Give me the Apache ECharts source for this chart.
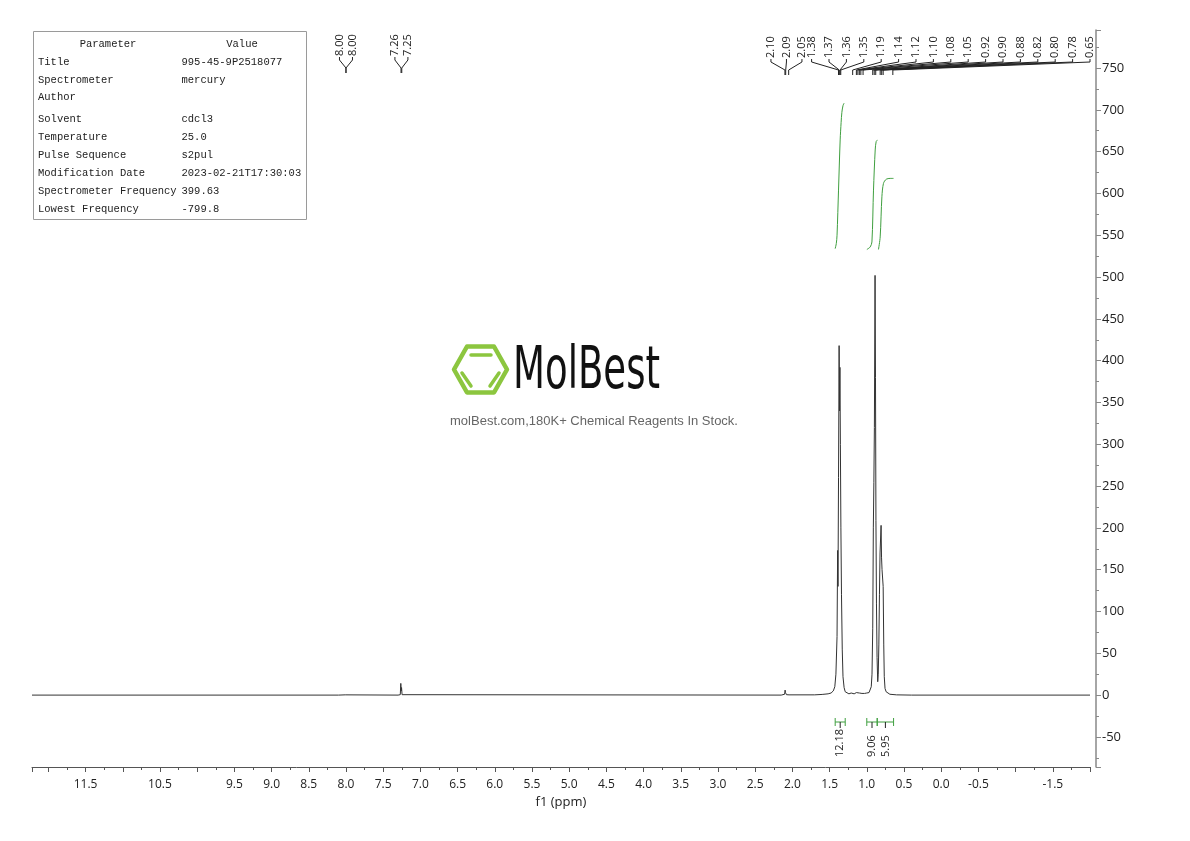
<!DOCTYPE html>
<html>
<head>
<meta charset="utf-8">
<title>1H NMR</title>
<script src="https://cdn.jsdelivr.net/npm/echarts@6/dist/echarts.min.js"></script>
<style>
  html, body { margin: 0; padding: 0; background: #fff; }
  #main { width: 1190px; height: 841px; }
</style>
</head>
<body>
<div id="main"></div>
<script>
// ---- data ----
// spectrum trace: chemical shift (ppm) and intensity
const specPpm = [12.22, 8.10, 8.01, 8.003, 7.997, 7.99, 7.30, 7.27, 7.263, 7.258, 7.253, 7.246, 7.22,
  2.15, 2.105, 2.098, 2.092, 2.088, 2.08, 2.055, 2.045,
  1.70, 1.60, 1.52, 1.48, 1.45, 1.43, 1.415, 1.40, 1.392, 1.387, 1.38, 1.372, 1.366, 1.361, 1.355, 1.348, 1.34, 1.33, 1.32, 1.305, 1.29,
  1.27, 1.24, 1.21, 1.19, 1.17, 1.15, 1.14, 1.125, 1.12, 1.10, 1.08, 1.065, 1.05, 1.03, 1.00,
  0.97, 0.95, 0.94, 0.93, 0.92, 0.912, 0.905, 0.898, 0.889, 0.883, 0.877, 0.87, 0.862, 0.853,
  0.846, 0.838, 0.83, 0.822, 0.808, 0.802, 0.795, 0.785, 0.78, 0.772, 0.765, 0.755, 0.74, 0.72, 0.69, 0.60, 0.40, -2.0];
const specInt = [0, 0, 0.3, 1.8, 1.8, 0.3, 0, 0.5, 14, 5, 9, 0.5, 0,
  0, 1, 6, 3, 5, 0.5, 1.5, 0.3,
  0.3, 0.8, 1.5, 2.5, 5, 10, 25, 70, 173, 130, 260, 418, 340, 392, 300, 200, 120, 55, 22, 9, 4,
  2.5, 1.5, 2.5, 3, 1.5, 2.5, 3, 2, 3, 2.5, 3, 2, 3, 2, 2.5,
  3, 5, 10, 25, 80, 200, 254, 320, 502, 380, 209, 110, 45, 16,
  25, 60, 120, 170, 203, 165, 150, 150, 130, 60, 22, 8, 4, 2, 1, 0.3, 0, 0];

// integral traces
const int1Ppm = [1.425, 1.41, 1.40, 1.38, 1.358, 1.345, 1.335, 1.32, 1.305];
const int1Val = [534, 540, 550, 604, 664, 685, 697, 705, 708];
const int2Ppm = [0.999, 0.954, 0.931, 0.91, 0.887, 0.874, 0.856];
const int2Val = [533, 536, 542, 604, 652, 662, 664];
const int3Ppm = [0.843, 0.82, 0.797, 0.776, 0.739, 0.685, 0.641];
const int3Val = [533, 548, 596, 612, 617, 618, 618];

// integral regions and their values
const integralFrom = [1.425, 1.00, 0.86];
const integralTo = [1.29, 0.86, 0.64];
const integralText = ['12.18', '9.06', '5.95'];

// picked peaks, grouped as the labels are drawn
const peakGroups = [
  [8.00, 8.00],
  [7.26, 7.25],
  [2.10, 2.09, 2.05],
  [1.38, 1.37, 1.36, 1.35, 1.19, 1.14, 1.12, 1.10, 1.08, 1.05, 0.92, 0.90, 0.88, 0.82, 0.80, 0.78, 0.65]
];
const peakLabelGap = [13, 13, 15.5, 17.4];
const peakLabelLift = [2, 2, 0, 0];

// axis tick labels that are shown
const xTickLabels = ['11.5', '10.5', '9.5', '9.0', '8.5', '8.0', '7.5', '7.0', '6.5', '6.0', '5.5', '5.0', '4.5',
  '4.0', '3.5', '3.0', '2.5', '2.0', '1.5', '1.0', '0.5', '0.0', '-0.5', '-1.5'];

// parameter table
const paramNames = ['Title', 'Spectrometer', 'Author', 'Solvent', 'Temperature', 'Pulse Sequence',
  'Modification Date', 'Spectrometer Frequency', 'Lowest Frequency'];
const paramValues = ['995-45-9P2518077', 'mercury', '', 'cdcl3', '25.0', 's2pul',
  '2023-02-21T17:30:03', '399.63', '-799.8'];
const paramRowY = [62, 80, 97, 119, 137, 155, 173, 191, 209];

// ---- chart ----
const FONT = '"Open Sans", "Noto Sans", sans-serif';
const MONO = '"Liberation Mono", "DejaVu Sans Mono", monospace';
const GREEN = '#3f9f3f';

const spectrum = specPpm.map((p, i) => [p, specInt[i]]);
const pairs = (a, b) => a.map((p, i) => [p, b[i]]);

const peakData = [];
peakGroups.forEach((g, gi) => g.forEach(p => peakData.push([p, gi])));

function peakLabelLayout(toX, right) {
  const xs = [];
  let prevEnd = -Infinity;
  peakGroups.forEach(function (g, gi) {
    const gap = peakLabelGap[gi];
    const px = g.map(toX);
    const mid = px.reduce((a, b) => a + b, 0) / px.length;
    let start = Math.max(mid - gap * (g.length - 1) / 2, prevEnd + gap);
    const end = start + gap * (g.length - 1);
    if (end > right) start -= end - right;
    g.forEach((_, j) => xs.push(start + j * gap));
    prevEnd = start + gap * (g.length - 1);
  });
  return xs;
}

const chart = echarts.init(document.getElementById('main'));

const graphics = [
  { type: 'rect', shape: { x: 33.5, y: 31.5, width: 273, height: 188 },
    style: { fill: '#fff', stroke: '#9a9a9a', lineWidth: 1 }, z: 10 },
  { type: 'text', x: 108, y: 44, z: 11,
    style: { text: 'Parameter', font: '10.5px ' + MONO, fill: '#222', align: 'center', verticalAlign: 'middle' } },
  { type: 'text', x: 242, y: 44, z: 11,
    style: { text: 'Value', font: '10.5px ' + MONO, fill: '#222', align: 'center', verticalAlign: 'middle' } }
];
paramNames.forEach(function (n, i) {
  graphics.push({ type: 'text', x: 38, y: paramRowY[i], z: 11,
    style: { text: n, font: '10.5px ' + MONO, fill: '#222', verticalAlign: 'middle' } });
  graphics.push({ type: 'text', x: 181.5, y: paramRowY[i], z: 11,
    style: { text: paramValues[i], font: '10.5px ' + MONO, fill: '#222', verticalAlign: 'middle' } });
});
// watermark logo
graphics.push(
  { type: 'polygon', z: 1,
    shape: { points: [[507, 369.5], [494, 346.5], [467, 346.5], [454, 369.5], [467, 392.5], [494, 392.5]] },
    style: { fill: 'none', stroke: '#8cc63f', lineWidth: 4.5, lineJoin: 'round' } },
  { type: 'polyline', z: 1, shape: { points: [[471, 355], [491, 355]] },
    style: { stroke: '#8cc63f', lineWidth: 3.5, lineCap: 'round' } },
  { type: 'polyline', z: 1, shape: { points: [[462, 373], [471, 386]] },
    style: { stroke: '#8cc63f', lineWidth: 3.5, lineCap: 'round' } },
  { type: 'polyline', z: 1, shape: { points: [[499, 373], [490, 386]] },
    style: { stroke: '#8cc63f', lineWidth: 3.5, lineCap: 'round' } },
  { type: 'text', x: 513, y: 373, scaleX: 0.71, z: 1,
    style: { text: 'MolBest', font: '58px "DejaVu Sans Condensed", "DejaVu Sans", sans-serif', fill: '#111',
      verticalAlign: 'middle' } },
  { type: 'text', x: 594, y: 421, z: 1,
    style: { text: 'molBest.com,180K+ Chemical Reagents In Stock.', font: '13px "Liberation Sans", Arial, sans-serif',
      fill: '#666', align: 'center', verticalAlign: 'middle' } }
);

chart.setOption({
  animation: false,
  backgroundColor: '#fff',
  grid: { left: 32, right: 100, top: 30, bottom: 74 },
  xAxis: {
    type: 'value', inverse: true, min: -2.0, max: 12.22, interval: 0.5,
    name: 'f1 (ppm)', nameLocation: 'middle', nameGap: 29,
    nameTextStyle: { fontFamily: FONT, fontSize: 13, color: '#222' },
    axisLine: { onZero: false, lineStyle: { color: '#555' } },
    axisTick: { length: 5, lineStyle: { color: '#555' } },
    minorTick: { show: true, splitNumber: 2, length: 3, lineStyle: { color: '#555' } },
    splitLine: { show: false },
    axisLabel: { fontFamily: FONT, fontSize: 12, color: '#222', margin: 12,
      formatter: function (v) {
        const s = (Math.round(v * 10) / 10).toFixed(1);
        return xTickLabels.indexOf(s) >= 0 && Math.abs(v * 2 - Math.round(v * 2)) < 1e-6 ? s : '';
      } }
  },
  yAxis: {
    type: 'value', position: 'right', offset: 6, min: -86, max: 795.5, splitNumber: 18,
    axisLine: { show: true, onZero: false, lineStyle: { color: '#888', width: 1.5 } },
    axisTick: { show: true, length: 5, lineStyle: { color: '#888' } },
    minorTick: { show: true, splitNumber: 2, length: 3, lineStyle: { color: '#888' } },
    splitLine: { show: false },
    axisLabel: { fontFamily: FONT, fontSize: 13, color: '#222', margin: 6,
      formatter: v => (Math.abs(v % 50) < 1e-6 ? String(v) : '') }
  },
  graphic: graphics,
  series: [
    { type: 'line', data: spectrum, showSymbol: false, symbol: 'none', silent: true,
      lineStyle: { color: '#333', width: 1 }, z: 3 },
    { type: 'line', data: pairs(int1Ppm, int1Val), showSymbol: false, symbol: 'none', smooth: 0.3, silent: true,
      lineStyle: { color: GREEN, width: 1 }, z: 4 },
    { type: 'line', data: pairs(int2Ppm, int2Val), showSymbol: false, symbol: 'none', smooth: 0.3, silent: true,
      lineStyle: { color: GREEN, width: 1 }, z: 4 },
    { type: 'line', data: pairs(int3Ppm, int3Val), showSymbol: false, symbol: 'none', smooth: 0.3, silent: true,
      lineStyle: { color: GREEN, width: 1 }, z: 4 },
    {
      // peak labels with leader lines
      type: 'custom', data: peakData, silent: true, z: 5,
      renderItem: function (params, api) {
        const cs = params.coordSys;
        if (!params.context.xs) {
          params.context.xs = peakLabelLayout(v => api.coord([v, 0])[0], cs.x + cs.width);
        }
        const lx = params.context.xs[params.dataIndex];
        const px = api.coord([api.value(0), 0])[0];
        const t = cs.y - peakLabelLift[api.value(1)];
        return { type: 'group', children: [
          { type: 'text', x: lx, y: t + 28, rotation: Math.PI / 2,
            style: { text: api.value(0).toFixed(2), font: '11px ' + FONT, fill: '#222',
              align: 'left', verticalAlign: 'middle' } },
          { type: 'polyline', shape: { points: [[lx, t + 29], [lx, t + 32], [px, t + 40], [px, t + 45]] },
            style: { stroke: '#222', lineWidth: 1, fill: null } }
        ] };
      }
    },
    {
      // integral brackets and values
      type: 'custom', silent: true, z: 5,
      data: integralFrom.map((f, i) => [f, integralTo[i], i]),
      renderItem: function (params, api) {
        const cs = params.coordSys;
        const x1 = api.coord([api.value(0), 0])[0];
        const x2 = api.coord([api.value(1), 0])[0];
        const xc = (x1 + x2) / 2;
        const yb = cs.y + cs.height - 45;
        return { type: 'group', children: [
          { type: 'line', shape: { x1: x1, y1: yb, x2: x2, y2: yb }, style: { stroke: GREEN, lineWidth: 1 } },
          { type: 'line', shape: { x1: x1, y1: yb - 4, x2: x1, y2: yb + 4 }, style: { stroke: GREEN, lineWidth: 1 } },
          { type: 'line', shape: { x1: x2, y1: yb - 4, x2: x2, y2: yb + 4 }, style: { stroke: GREEN, lineWidth: 1 } },
          { type: 'line', shape: { x1: xc, y1: yb, x2: xc, y2: yb + 6 }, style: { stroke: '#222', lineWidth: 1 } },
          { type: 'text', x: xc, y: yb + 35, rotation: Math.PI / 2,
            style: { text: integralText[api.value(2)], font: '11px ' + FONT, fill: '#222',
              align: 'left', verticalAlign: 'middle' } }
        ] };
      }
    }
  ]
});
</script>
</body>
</html>
